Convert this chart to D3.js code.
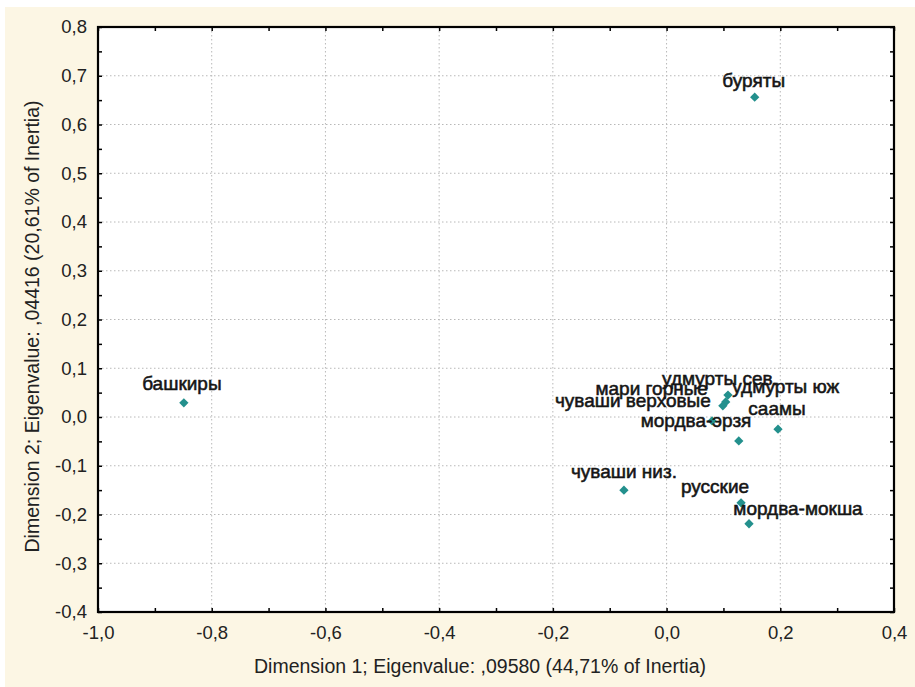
<!DOCTYPE html>
<html>
<head>
<meta charset="utf-8">
<script src="https://cdn.jsdelivr.net/npm/d3@7"></script>
<style>
  html, body { margin: 0; padding: 0; background: #ffffff; }
  svg { display: block; font-family: "Liberation Sans", Arial, sans-serif; }
</style>
</head>
<body>
<svg id="chart" width="915" height="687"></svg>
<script>
// Correspondence analysis: row points on dimensions 1 and 2
const groups = ["буряты", "башкиры", "чуваши низ.", "мордва-мокша", "русские", "саамы",
                "удмурты сев.", "мари горные", "чуваши верховые", "мордва-эрзя", "удмурты юж"];
const dim1 = [0.155, -0.849, -0.075, 0.145, 0.131, 0.196, 0.108, 0.104, 0.099, 0.080, 0.127];
const dim2 = [0.656, 0.029, -0.150, -0.219, -0.176, -0.025, 0.045, 0.031, 0.023, -0.008, -0.049];

// label placement relative to each point (pixels: centre x, baseline y)
const labelShift = [[-1, -10], [-2, -13], [0, -12], [49, -9], [-26, -10], [-1, -14],
                    [-8, -10], [-74, -7], [-90, 1], [-16, 6], [47, -48]];

const xTicks = [-1.0, -0.8, -0.6, -0.4, -0.2, 0.0, 0.2, 0.4];
const yTicks = [-0.4, -0.3, -0.2, -0.1, 0.0, 0.1, 0.2, 0.3, 0.4, 0.5, 0.6, 0.7, 0.8];
const xTitle = "Dimension 1; Eigenvalue: ,09580 (44,71% of Inertia)";
const yTitle = "Dimension 2; Eigenvalue: ,04416 (20,61% of Inertia)";

const svg = d3.select("#chart");
const W = 915, H = 687;
const plot = { left: 98, right: 894, top: 27, bottom: 612 };

const x = d3.scaleLinear().domain([-1.0, 0.4]).range([plot.left, plot.right]);
const y = d3.scaleLinear().domain([-0.4, 0.8]).range([plot.bottom, plot.top]);
const fmt = d => d3.format(".1f")(d).replace(".", ",").replace("−", "-");

// cream panel behind everything
svg.append("rect").attr("x", 5).attr("y", 7).attr("width", W - 5).attr("height", H - 7)
  .attr("fill", "#fcf6e4");

// white plotting area
svg.append("rect")
  .attr("x", plot.left).attr("y", plot.top)
  .attr("width", plot.right - plot.left).attr("height", plot.bottom - plot.top)
  .attr("fill", "#ffffff");

// dotted grid
const grid = svg.append("g").attr("stroke", "#b8b8b8").attr("stroke-width", 1)
  .attr("stroke-dasharray", "1.5,2.5");
grid.selectAll("line.vx").data(xTicks.slice(1, -1)).join("line")
  .attr("x1", d => x(d)).attr("x2", d => x(d))
  .attr("y1", plot.top).attr("y2", plot.bottom);
grid.selectAll("line.hy").data(yTicks.slice(1, -1)).join("line")
  .attr("y1", d => y(d)).attr("y2", d => y(d))
  .attr("x1", plot.left).attr("x2", plot.right);

// axes with inward ticks
const tickStyle = g => {
  g.select(".domain").remove();
  g.selectAll(".tick line").attr("stroke", "#000").attr("stroke-width", 1.5);
};
const xMinor = d3.range(-1.0, 0.41, 0.1).map(v => +v.toFixed(2));
const yMinor = d3.range(-0.4, 0.801, 0.05).map(v => +v.toFixed(2));

svg.append("g").attr("transform", `translate(0,${plot.bottom})`)
  .call(d3.axisBottom(x).tickValues(xMinor).tickSize(-4).tickFormat(""))
  .call(tickStyle);
svg.append("g").attr("transform", `translate(0,${plot.top})`)
  .call(d3.axisTop(x).tickValues(xMinor).tickSize(-4).tickFormat(""))
  .call(tickStyle);
svg.append("g").attr("transform", `translate(${plot.left},0)`)
  .call(d3.axisLeft(y).tickValues(yMinor).tickSize(-4).tickFormat(""))
  .call(tickStyle);
svg.append("g").attr("transform", `translate(${plot.right},0)`)
  .call(d3.axisRight(y).tickValues(yMinor).tickSize(-4).tickFormat(""))
  .call(tickStyle);

// tick labels
const xAxis = svg.append("g").attr("transform", `translate(0,${plot.bottom})`)
  .call(d3.axisBottom(x).tickValues(xTicks).tickSize(0).tickPadding(14).tickFormat(fmt));
xAxis.select(".domain").remove();
xAxis.selectAll("text").attr("font-size", 18.5).attr("fill", "#222")
  .attr("font-family", "Liberation Sans, Arial, sans-serif");

const yAxis = svg.append("g").attr("transform", `translate(${plot.left},0)`)
  .call(d3.axisLeft(y).tickValues(yTicks).tickSize(0).tickPadding(11).tickFormat(fmt));
yAxis.select(".domain").remove();
yAxis.selectAll("text").attr("font-size", 18.5).attr("fill", "#222")
  .attr("font-family", "Liberation Sans, Arial, sans-serif");

// frame
svg.append("rect")
  .attr("x", plot.left).attr("y", plot.top)
  .attr("width", plot.right - plot.left).attr("height", plot.bottom - plot.top)
  .attr("fill", "none").attr("stroke", "#000").attr("stroke-width", 2.2);

// axis titles
svg.append("text").attr("x", 480).attr("y", 673).attr("text-anchor", "middle")
  .attr("font-size", 19.5).attr("fill", "#222").text(xTitle);
svg.append("text").attr("transform", `translate(39,${(plot.top + plot.bottom) / 2 + 7}) rotate(-90)`)
  .attr("text-anchor", "middle").attr("font-size", 19.5).attr("fill", "#222").text(yTitle);

// points and labels
const rows = groups.map((g, i) => ({ name: g, d1: dim1[i], d2: dim2[i], shift: labelShift[i] }));

svg.append("g").selectAll("path").data(rows).join("path")
  .attr("d", d3.symbol(d3.symbolDiamond2, 55))
  .attr("transform", d => `translate(${x(d.d1)},${y(d.d2)})`)
  .attr("fill", "#23908d");

svg.append("g").selectAll("text").data(rows).join("text")
  .attr("x", d => x(d.d1) + d.shift[0])
  .attr("y", d => y(d.d2) + d.shift[1])
  .attr("text-anchor", "middle")
  .attr("font-size", 19)
  .attr("fill", "#151515")
  .attr("stroke", "#151515").attr("stroke-width", 0.55)
  .text(d => d.name);
</script>
</body>
</html>
